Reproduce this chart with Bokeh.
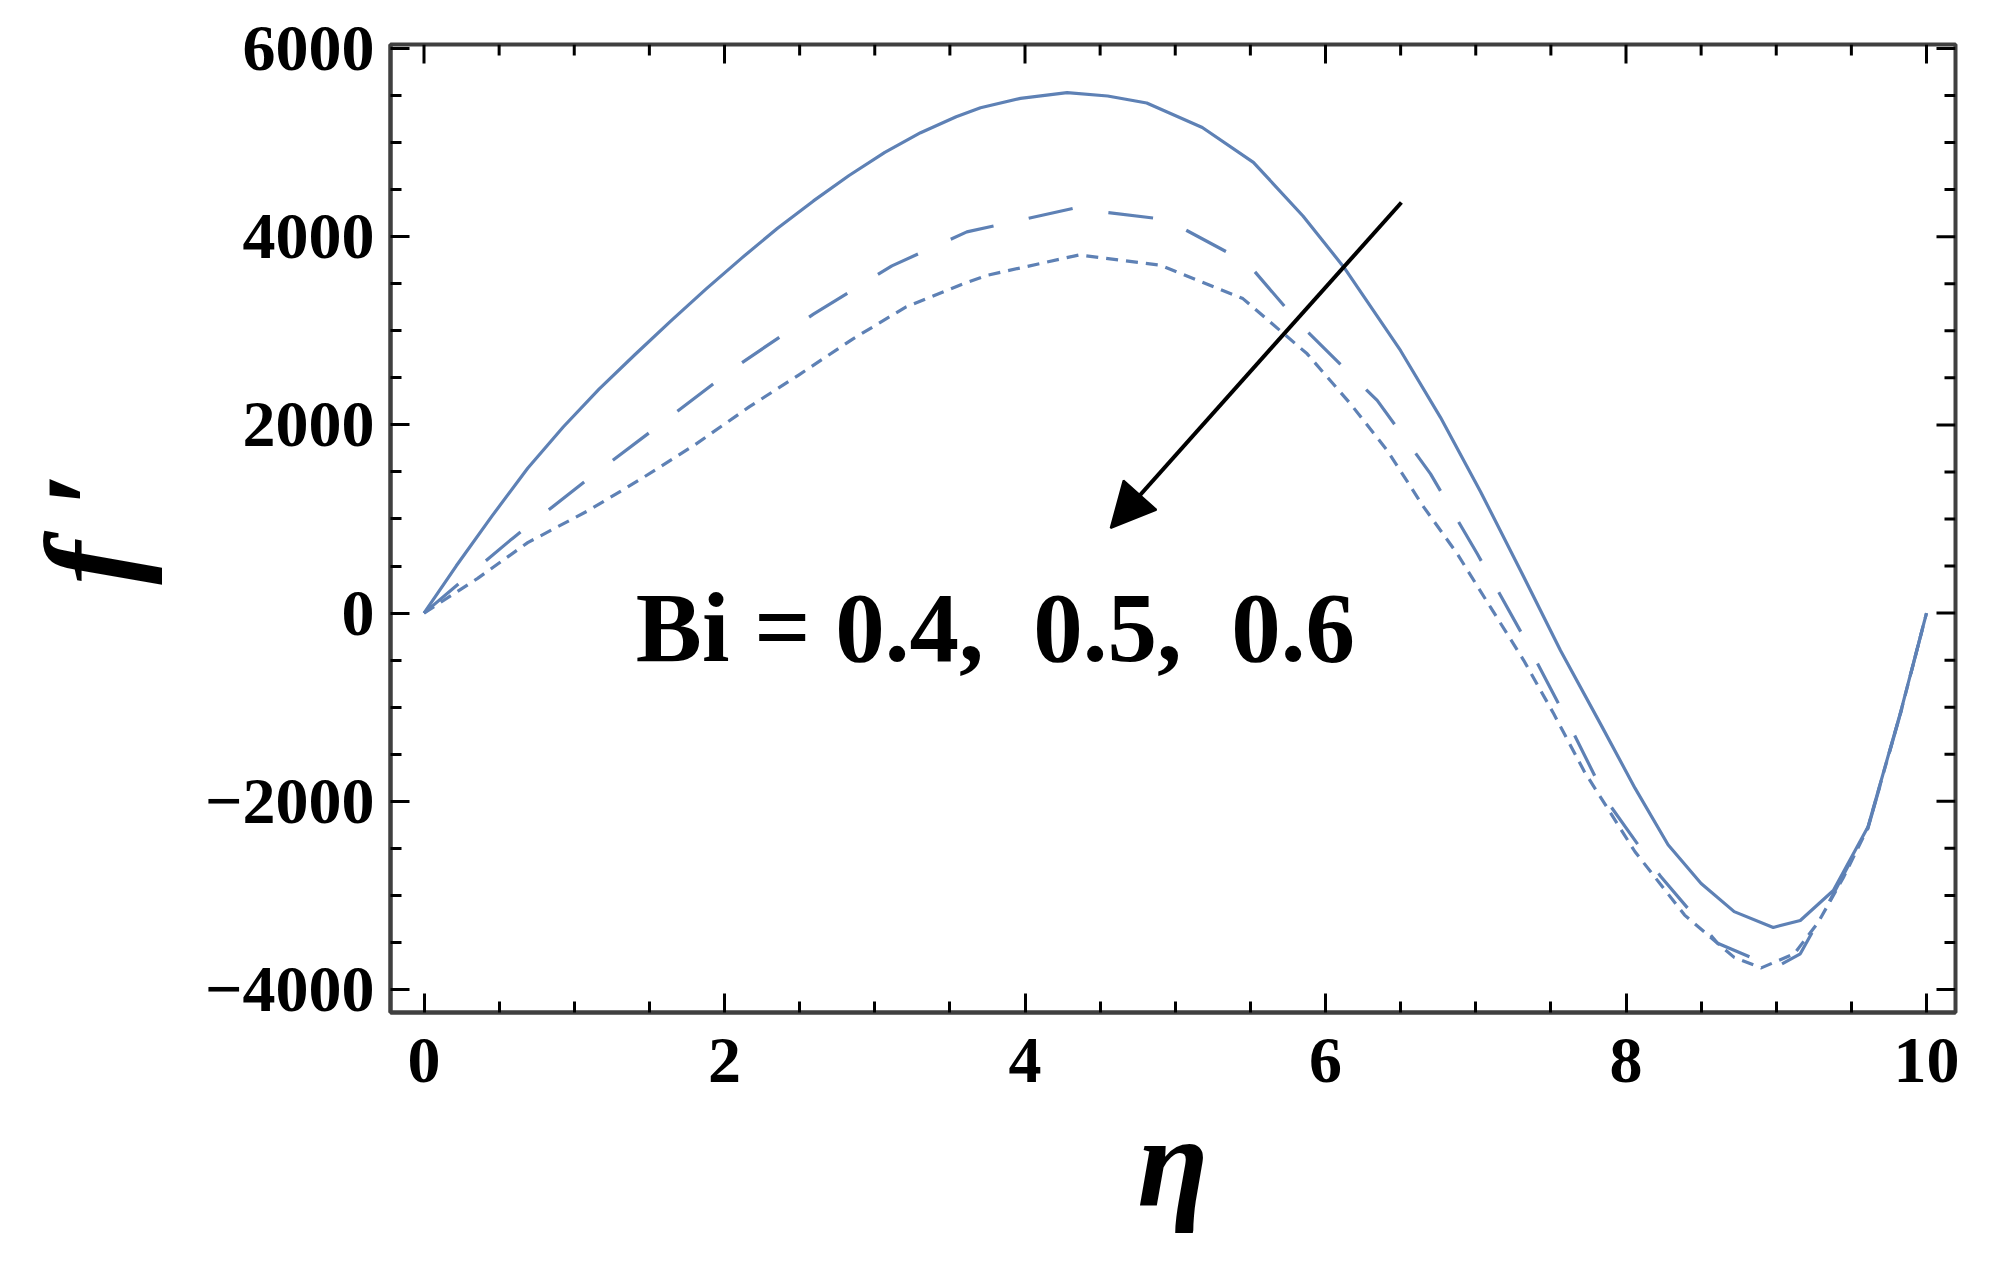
from bokeh.plotting import figure
from bokeh.models import Range1d, FixedTicker, Arrow, NormalHead
from bokeh.core.properties import value
from bokeh.embed import file_html
from bokeh.resources import INLINE

# ---- data -------------------------------------------------------------
eta_bi04 = [0, 0.214, 0.452, 0.69, 0.928, 1.165, 1.403, 1.64, 1.878, 2.116,
            2.353, 2.592, 2.829, 3.067, 3.305, 3.542, 3.704, 3.97, 4.28, 4.55,
            4.81, 5.18, 5.52, 5.85, 6.122, 6.499, 6.765, 7.032, 7.298, 7.564,
            7.83, 8.06, 8.28, 8.50, 8.72, 8.98, 9.16, 9.38, 9.61, 9.83, 10.0]
f_bi04 = [0, 500, 1030, 1540, 1980, 2380, 2745, 3100, 3445, 3775,
          4090, 4380, 4650, 4895, 5105, 5275, 5370, 5470, 5530, 5495,
          5420, 5160, 4790, 4220, 3676, 2791, 2080, 1290, 453, -397,
          -1177, -1860, -2461, -2873, -3172, -3340, -3266, -2948, -2274, -1039, 0]

eta_bi05 = [0, 0.583, 1.082, 1.569, 2.068, 2.592, 3.114, 3.613, 4.32, 4.94,
            5.48, 5.835, 6.344, 6.699, 7.01, 7.32, 7.609, 7.88, 8.23, 8.61,
            8.83, 8.99, 9.16, 9.38, 9.61, 9.83, 10.0]
f_bi05 = [0, 786, 1413, 2001, 2609, 3177, 3690, 4051, 4300, 4182,
          3720, 3060, 2260, 1480, 630, -256, -1141, -2012, -2797, -3508,
          -3657, -3770, -3620, -2985, -2290, -1050, 0]

eta_bi06 = [0, 0.357, 0.69, 1.094, 1.45, 1.807, 2.164, 2.496, 2.853, 3.209,
            3.59, 3.75, 4.36, 4.90, 5.45, 5.878, 6.166, 6.411, 6.654, 6.877,
            7.098, 7.32, 7.519, 7.72, 8.06, 8.39, 8.72, 8.90, 9.12, 9.28,
            9.45, 9.61, 9.83, 10.0]
f_bi06 = [0, 369, 749, 1090, 1431, 1793, 2191, 2532, 2912, 3254,
          3500, 3590, 3806, 3696, 3342, 2755, 2224, 1728, 1126, 630,
          63, -504, -1070, -1676, -2536, -3209, -3658, -3770, -3620, -3284,
          -2800, -2280, -1045, 0]

x_major = [0, 2, 4, 6, 8, 10]
x_minor = [0.5, 1, 1.5, 2.5, 3, 3.5, 4.5, 5, 5.5, 6.5, 7, 7.5, 8.5, 9, 9.5]
y_major = [-4000, -2000, 0, 2000, 4000, 6000]
y_minor = [-3500, -3000, -2500, -1500, -1000, -500, 500, 1000, 1500,
           2500, 3000, 3500, 4500, 5000, 5500]
y_tick_labels = {-4000: "\u22124000", -2000: "\u22122000", 0: "0",
                 2000: "2000", 4000: "4000", 6000: "6000"}

# double gaps kept visible with a no-break space
annotation_text = "Bi = 0.4,\u00a0 0.5,\u00a0 0.6"
x_title = "\u03b7"
y_title = "f \u2032"

# ---- layout / style -----------------------------------------------------
BLUE = "#5E81B5"
FONT = "Liberation Serif"
FRAME = "#404040"
X0, X1 = -0.223, 10.193
Y0, Y1 = -4244, 6042
W, H = 1985, 1255
BL, BR, BT, BB = 390, 30, 44, 243
FRAME_W = W - BL - BR
FRAME_H = H - BT - BB
MAJ, MIN = 19, 11  # tick lengths in px

p = figure(width=W, height=H, output_backend="svg", toolbar_location=None,
           x_range=Range1d(X0, X1), y_range=Range1d(Y0, Y1),
           min_border_left=BL, min_border_right=BR, min_border_top=BT,
           min_border_bottom=BB, background_fill_color="white",
           border_fill_color="white")
p.xgrid.grid_line_color = None
p.ygrid.grid_line_color = None
p.outline_line_color = FRAME
p.outline_line_width = 4

xax = p.xaxis[0]
yax = p.yaxis[0]
xax.ticker = FixedTicker(ticks=x_major, minor_ticks=x_minor)
yax.ticker = FixedTicker(ticks=y_major, minor_ticks=y_minor)
yax.major_label_overrides = y_tick_labels

for ax in (xax, yax):
    ax.axis_line_color = FRAME
    ax.axis_line_width = 4
    ax.major_tick_in = MAJ
    ax.major_tick_out = 0
    ax.minor_tick_in = MIN
    ax.minor_tick_out = 0
    ax.major_tick_line_color = "black"
    ax.minor_tick_line_color = "black"
    ax.major_tick_line_width = 3
    ax.minor_tick_line_width = 3
    ax.major_label_text_font = FONT
    ax.major_label_text_font_style = "bold"
    ax.major_label_text_color = "black"
    ax.major_label_text_font_size = "66px"
    ax.axis_label_text_font = FONT
    ax.axis_label_text_font_style = "bold italic"
    ax.axis_label_text_font_size = "130px"
    ax.axis_label_text_color = "black"

xax.major_label_standoff = 26
yax.major_label_standoff = 16
xax.axis_label = x_title
yax.axis_label = y_title
xax.axis_label_standoff = 4
yax.axis_label_standoff = 40

# mirrored tick marks on the top and right frame edges (Mathematica-style frame)
dy = (Y1 - Y0) / FRAME_H
dx = (X1 - X0) / FRAME_W
top_x = x_major + x_minor
top_len = [MAJ * dy] * len(x_major) + [MIN * dy] * len(x_minor)
p.segment(x0=top_x, y0=[Y1] * len(top_x), x1=top_x,
          y1=[Y1 - L for L in top_len], line_color="black", line_width=3)
right_y = y_major + y_minor
right_len = [MAJ * dx] * len(y_major) + [MIN * dx] * len(y_minor)
p.segment(x0=[X1] * len(right_y), y0=right_y, x1=[X1 - L for L in right_len],
          y1=right_y, line_color="black", line_width=3)

# curves
p.line(eta_bi04, f_bi04, line_color=BLUE, line_width=3.2, line_join="round")
p.line(eta_bi05, f_bi05, line_color=BLUE, line_width=3.2, line_dash="45 36",
       line_join="round")
p.line(eta_bi06, f_bi06, line_color=BLUE, line_width=3.2, line_dash="12 8",
       line_join="round")

# parameter text (font size avoids "x00px", which the SVG font parser misreads)
p.text(x=[1.41], y=[-153], text=[annotation_text], text_font=value(FONT),
       text_font_style="bold", text_font_size="99px", text_color="black",
       text_align="left", text_baseline="middle")

# arrow
p.add_layout(Arrow(end=NormalHead(size=44, fill_color="black", line_color="black",
                                  line_width=2),
                   x_start=6.505, y_start=4363, x_end=4.57, y_end=904,
                   line_color="black", line_width=4))

open("out.html", "w").write(file_html(p, INLINE))
